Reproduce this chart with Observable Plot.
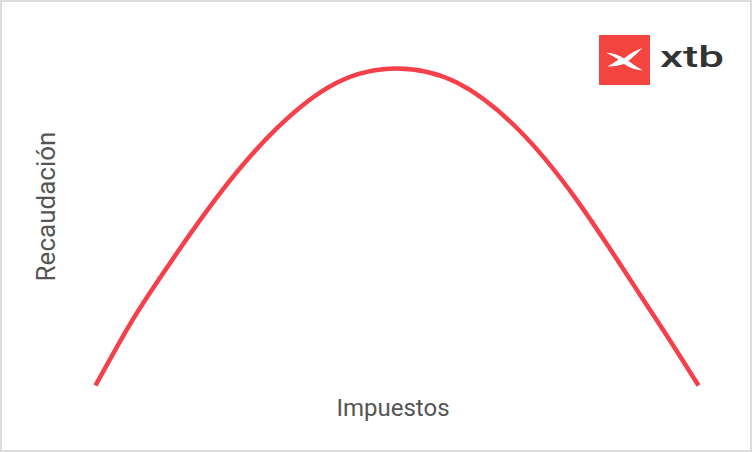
<!DOCTYPE html>
<html>
<head>
<meta charset="utf-8">
<script src="https://cdn.jsdelivr.net/npm/d3@7"></script>
<script src="https://cdn.jsdelivr.net/npm/@observablehq/plot@0.6"></script>
<style>
  html, body { margin: 0; padding: 0; background: #fff; }
  #wrap { position: relative; width: 752px; height: 452px; overflow: hidden; }
  #border { position: absolute; left: 0; top: 0; width: 752px; height: 452px; box-sizing: border-box; border: 2px solid #dcdcdc; pointer-events: none; }
  svg { display: block; }
</style>
</head>
<body>
<div id="wrap"><div id="border"></div></div>
<script>
// Laffer curve (tax rate 0–100, revenue 0–100)
const tax = [0, 5, 10, 20, 30, 40, 50, 60, 70, 80, 90, 95, 100];
const revenue = [0, 17, 32, 59, 81, 95.5, 100, 95.5, 81, 58, 29.5, 15, 0];
const xLabel = "Impuestos";
const yLabel = "Recaudación";
const brand = "xtb";

const data = tax.map((t, i) => ({tax: t, revenue: revenue[i]}));

const chart = Plot.plot({
  width: 752,
  height: 452,
  marginLeft: 95,
  marginRight: 54,
  marginTop: 68,
  marginBottom: 67,
  style: {fontFamily: "Roboto, sans-serif", background: "transparent"},
  x: {domain: [0, 100], axis: null},
  y: {domain: [0, 100], axis: null},
  marks: [
    Plot.line(data, {x: "tax", y: "revenue", curve: "natural", stroke: "#f5404b", strokeWidth: 4.5, strokeLinecap: "butt"}),
    Plot.text([xLabel], {text: d => d, frameAnchor: "bottom", textAnchor: "middle", lineAnchor: "bottom", dx: -4, dy: 30, fontSize: 24, fill: "#555"}),
    Plot.text([yLabel], {text: d => d, frameAnchor: "left", rotate: -90, textAnchor: "middle", lineAnchor: "bottom", dx: -41, dy: -20.5, fontSize: 26, fill: "#555"})
  ]
});

// brand logo (decoration)
const svg = d3.select(chart);
const g = svg.append("g").attr("class", "logo");
g.append("rect").attr("x", 599).attr("y", 35).attr("width", 51).attr("height", 50).attr("fill", "#f4443f");
g.append("path")
  .attr("d", "M606,52.5 Q617,53.5 624,58.5 Q632,51.5 642.5,48 Q635,55.5 628.5,61 Q635,66 643,70.5 Q632,69.5 624,64 Q616,66.5 607.5,66.5 Q614,63 618.5,59.5 Q612,55.5 606,52.5 Z")
  .attr("fill", "#fff");
g.append("text").attr("x", 660).attr("y", 67)
  .attr("text-anchor", "start")
  .attr("font-family", "Roboto, sans-serif").attr("font-weight", 500).attr("font-size", 30)
  .attr("fill", "#333").attr("textLength", 64).attr("lengthAdjust", "spacingAndGlyphs")
  .text(brand);

document.getElementById("wrap").prepend(chart);
</script>
</body>
</html>
